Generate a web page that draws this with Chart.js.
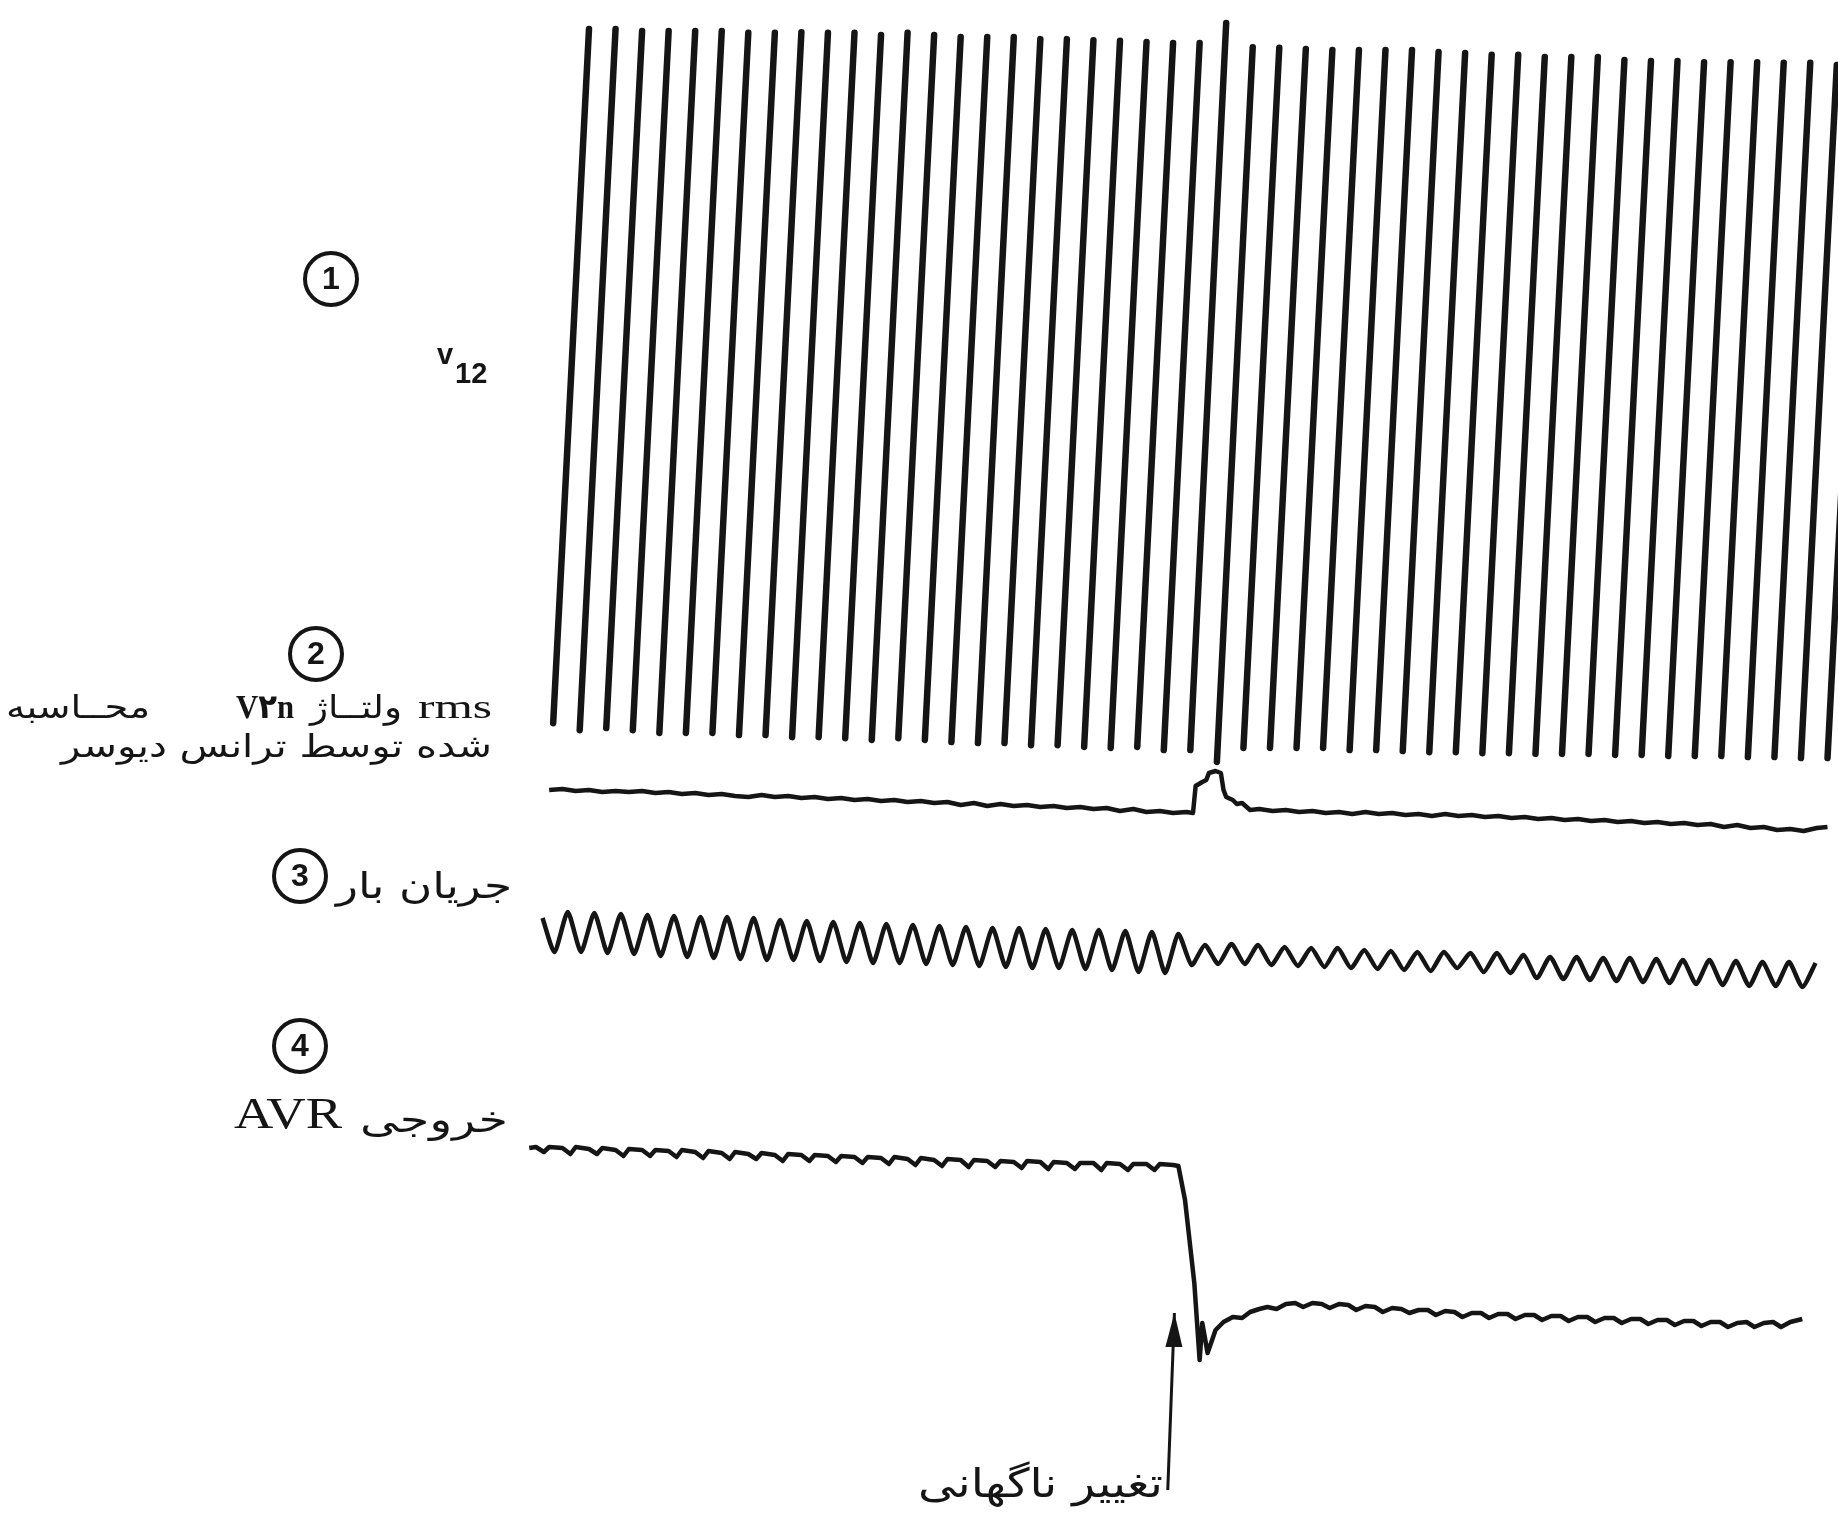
<!DOCTYPE html>
<html><head><meta charset="utf-8">
<script src="https://cdn.jsdelivr.net/npm/chart.js@4.4.1/dist/chart.umd.min.js"></script>
<style>html,body{margin:0;padding:0;background:#fff}canvas{display:block}</style>
</head><body>
<canvas id="c" width="1838" height="1514" style="width:1838px;height:1514px"></canvas>
<script>
// ---------- DATA (time in ms, 20 ms per cycle) ----------
// Trace 1: v12, per-unit peak/trough of each cycle stroke
const v12PeakTimes   = [0,20,40,60,80,100,120,140,160,180,200,220,240,260,280,300,320,340,360,380,400,420,440,460,480,500,520,540,560,580,600,620,640,660,680,700,720,740,760,780,800,820,840,860,880,900,920,940,960];
const v12Peaks       = [1.000,1.000,0.994,0.994,0.994,0.994,0.989,0.989,0.991,0.989,0.989,0.983,0.989,0.983,0.977,0.977,0.977,0.971,0.971,0.968,0.966,0.963,0.960,0.960,1.017,0.948,0.946,0.943,0.940,0.940,0.940,0.940,0.934,0.931,0.926,0.926,0.920,0.920,0.920,0.911,0.908,0.908,0.905,0.905,0.905,0.903,0.903,0.897,0.895];
const v12TroughTimes = [-27,-7,13,33,53,73,93,113,133,153,173,193,213,233,253,273,293,313,333,353,373,393,413,433,453,473,493,513,533,553,573,593,613,633,653,673,693,713,733,753,773,793,813,833,853,873,893,913,933];
const v12Troughs     = [-0.989,-1.009,-1.003,-1.009,-1.017,-1.017,-1.017,-1.023,-1.023,-1.029,-1.029,-1.032,-1.037,-1.032,-1.037,-1.043,-1.046,-1.046,-1.052,-1.052,-1.057,-1.060,-1.057,-1.066,-1.066,-1.100,-1.060,-1.060,-1.060,-1.060,-1.066,-1.066,-1.069,-1.072,-1.072,-1.075,-1.075,-1.077,-1.077,-1.077,-1.080,-1.080,-1.083,-1.083,-1.083,-1.086,-1.086,-1.089,-1.089];

// Trace 2: rms voltage from transducer (pu)
const rmsTimes  = [-30,-20,-10,0,10,20,30,40,50,60,70,80,90,100,110,120,130,140,150,160,170,180,190,200,210,220,230,240,250,260,270,280,290,300,310,320,330,340,350,360,370,380,390,400,410,420,430,440,450,455,457,462,465,467,472,476,478,480,485,488,492,498,505,515,525,535,545,555,565,575,585,595,605,615,625,635,645,655,665,675,685,695,705,715,725,735,745,755,765,775,785,795,805,815,825,835,845,855,865,875,885,895,905,915,925,933];
const rmsValues = [1.000,1.002,0.998,1.000,0.996,0.998,0.996,0.998,0.994,0.996,0.992,0.994,0.990,0.992,0.988,0.986,0.990,0.986,0.988,0.984,0.986,0.982,0.984,0.980,0.982,0.978,0.980,0.976,0.978,0.974,0.976,0.970,0.974,0.968,0.972,0.968,0.970,0.966,0.968,0.964,0.966,0.962,0.964,0.958,0.962,0.956,0.958,0.954,0.956,0.954,1.008,1.016,1.020,1.034,1.038,1.034,1.000,0.986,0.980,0.972,0.974,0.960,0.962,0.958,0.960,0.956,0.958,0.954,0.956,0.952,0.956,0.952,0.954,0.950,0.952,0.948,0.952,0.948,0.950,0.946,0.948,0.944,0.946,0.942,0.944,0.940,0.942,0.938,0.940,0.936,0.938,0.934,0.936,0.932,0.934,0.930,0.932,0.926,0.930,0.924,0.926,0.920,0.922,0.918,0.924,0.926];

// Trace 3: load current (recorder deflection units)
const curStart = {t: -35, v: 4.10};
const curTroughTimes = [-26,-6,14,34,54,74,94,114,134,154,174,194,214,234,254,274,294,314,334,354,374,394,414,434,454,474,494,514,534,554,574,594,614,634,654,674,694,714,734,754,774,794,814,834,854,874,894,914];
const curTroughs     = [2.40,2.40,2.35,2.30,2.20,2.15,2.10,2.05,2.00,2.00,1.95,1.90,1.85,1.85,1.80,1.75,1.70,1.65,1.60,1.60,1.55,1.50,1.40,1.35,1.75,1.80,1.80,1.75,1.70,1.65,1.60,1.55,1.50,1.45,1.60,1.40,1.35,1.10,1.05,1.00,0.95,0.90,0.85,0.80,0.75,0.70,0.70,0.65];
const curPeakTimes   = [-16,4,24,44,64,84,104,124,144,164,184,204,224,244,264,284,304,324,344,364,384,404,424,444,464,484,504,524,544,564,584,604,624,644,664,684,704,724,744,764,784,804,824,844,864,884,904,924];
const curPeaks       = [4.40,4.35,4.30,4.25,4.20,4.15,4.15,4.10,4.00,3.95,3.90,3.85,3.80,3.75,3.70,3.65,3.60,3.60,3.55,3.50,3.50,3.45,3.40,3.30,2.75,2.80,2.75,2.65,2.60,2.60,2.50,2.45,2.40,2.40,2.35,2.35,2.25,2.15,2.15,2.10,2.10,2.05,2.00,2.00,1.95,1.90,1.90,1.85];

// Trace 4: AVR output (pu)
const avrTimes  = [-45,-40,-34,-30,-20,-14,-10,0,6,10,20,26,30,40,46,50,60,66,70,80,86,90,100,106,110,120,126,130,140,146,150,160,166,170,180,186,190,200,206,210,220,226,230,240,246,250,260,266,270,280,286,290,300,306,310,320,326,330,340,346,350,360,366,370,380,386,390,400,406,410,420,426,430,440,444,449,456,460,462,466,472,478,485,492,498,505,511,518,525,532,538,545,552,558,565,572,578,585,592,598,605,612,618,625,632,638,645,652,658,665,672,678,685,692,698,705,712,718,725,732,738,745,752,758,765,772,778,785,792,798,805,812,818,825,832,838,845,852,858,865,872,878,885,892,898,905,914];
const avrValues = [2.52,2.53,2.48,2.53,2.52,2.46,2.53,2.51,2.46,2.52,2.50,2.44,2.51,2.50,2.44,2.50,2.49,2.43,2.50,2.48,2.42,2.49,2.47,2.41,2.48,2.46,2.41,2.47,2.45,2.39,2.46,2.45,2.39,2.45,2.44,2.38,2.44,2.43,2.37,2.43,2.42,2.36,2.43,2.41,2.35,2.42,2.40,2.34,2.41,2.40,2.33,2.40,2.39,2.33,2.39,2.38,2.32,2.39,2.38,2.31,2.38,2.37,2.31,2.37,2.37,2.30,2.37,2.36,2.30,2.36,2.36,2.30,2.36,2.35,2.34,2.00,1.17,0.40,0.77,0.47,0.70,0.78,0.83,0.82,0.88,0.91,0.93,0.91,0.96,0.97,0.93,0.97,0.96,0.92,0.96,0.95,0.90,0.94,0.93,0.88,0.92,0.91,0.87,0.90,0.90,0.85,0.89,0.88,0.83,0.87,0.87,0.82,0.86,0.86,0.81,0.85,0.85,0.80,0.84,0.84,0.79,0.83,0.83,0.78,0.82,0.82,0.77,0.81,0.81,0.76,0.80,0.80,0.75,0.79,0.79,0.74,0.78,0.78,0.73,0.77,0.78,0.73,0.77,0.78,0.73,0.78,0.81];

// "sudden change" marker arrow (time ms, AVR axis units)
const arrowTimes  = [436, 441];
const arrowValues = [-0.90, 0.87];

// ---------- build datasets ----------
const INK = '#151515';
const v12Data = [];
for (let k = 0; k < v12PeakTimes.length; k++) {
  v12Data.push({x: v12TroughTimes[k], y: v12Troughs[k]});
  v12Data.push({x: v12PeakTimes[k], y: v12Peaks[k]});
  v12Data.push({x: v12PeakTimes[k], y: null});
}
const rmsData = rmsTimes.map((t, i) => ({x: t, y: rmsValues[i]}));
const curData = [{x: curStart.t, y: curStart.v}];
for (let k = 0; k < curTroughTimes.length; k++) {
  curData.push({x: curTroughTimes[k], y: curTroughs[k]});
  curData.push({x: curPeakTimes[k], y: curPeaks[k]});
}
const avrData = avrTimes.map((t, i) => ({x: t, y: avrValues[i]}));
const arrowData = arrowTimes.map((t, i) => ({x: t, y: arrowValues[i]}));

function circled(c, x, y, r, d) {
  c.beginPath(); c.lineWidth = 4; c.arc(x, y, r, 0, Math.PI * 2); c.stroke();
  c.font = 'bold 32px "Liberation Sans"'; c.textAlign = 'center'; c.textBaseline = 'middle';
  c.fillText(d, x, y + 1);
  c.textBaseline = 'alphabetic';
}
function fit(c, text, xRight, base, width, font, dir) {
  c.save(); c.font = font; c.direction = dir || 'rtl'; c.textAlign = 'right';
  const w = c.measureText(text).width;
  c.translate(xRight, base); c.scale(width / w, 1); c.fillText(text, 0, 0); c.restore();
}

const bgPlugin = { id: 'bg', beforeDraw(ch) { const c = ch.ctx; c.save(); c.fillStyle = '#fff'; c.fillRect(0, 0, ch.width, ch.height); c.restore(); } };
const labelPlugin = {
  id: 'labels',
  afterDatasetsDraw(ch) {
    const c = ch.ctx; c.save(); c.fillStyle = INK; c.strokeStyle = INK;
    // arrow head
    const xs = ch.scales.x, ya = ch.scales.yA;
    const tx = xs.getPixelForValue(arrowTimes[1]), ty = ya.getPixelForValue(arrowValues[1]);
    c.beginPath(); c.moveTo(tx, ty); c.lineTo(tx - 9, ty + 34); c.lineTo(tx + 8, ty + 34); c.closePath(); c.fill();
    // trace labels
    circled(c, 331, 279, 26, '1');
    c.textAlign = 'left';
    c.font = 'bold 29px "Liberation Sans"'; c.fillText('v', 437, 364);
    c.font = 'bold 29px "Liberation Sans"'; c.fillText('12', 455, 383);

    circled(c, 316, 654, 26, '2');
    fit(c, 'rms', 492, 718, 74, '34px "Liberation Serif"', 'ltr');
    fit(c, 'ولتــاژ', 402, 718, 92, '32px "DejaVu Sans"');
    fit(c, 'V۲n', 294, 718, 58, 'bold 34px "Liberation Serif", "DejaVu Sans"', 'ltr');
    fit(c, 'محــاسبه', 150, 718, 144, '32px "DejaVu Sans"');
    fit(c, 'شده توسط ترانس دیوسر', 492, 757, 431, '32px "DejaVu Sans"');

    circled(c, 300, 876, 26, '3');
    fit(c, 'جریان بار', 512, 898, 176, '36px "DejaVu Sans"');

    circled(c, 300, 1046, 26, '4');
    fit(c, 'AVR', 342, 1128, 108, '44px "Liberation Serif"', 'ltr');
    fit(c, 'خروجی', 508, 1132, 148, '36px "DejaVu Sans"');

    fit(c, 'تغییر ناگهانی', 1163, 1497, 245, '40px "DejaVu Sans"');
    c.restore();
  }
};

const lineBase = { pointRadius: 0, borderColor: INK, fill: false, xAxisID: 'x', spanGaps: false };
new Chart(document.getElementById('c'), {
  type: 'line',
  data: { datasets: [
    Object.assign({}, lineBase, { label: 'v12', data: v12Data, yAxisID: 'yV', borderWidth: 6.5, tension: 0, borderCapStyle: 'round' }),
    Object.assign({}, lineBase, { label: 'rms', data: rmsData, yAxisID: 'yR', borderWidth: 4.5, tension: 0, borderJoinStyle: 'round' }),
    Object.assign({}, lineBase, { label: 'current', data: curData, yAxisID: 'yI', borderWidth: 4.5, tension: 0.2, borderJoinStyle: 'round' }),
    Object.assign({}, lineBase, { label: 'avr', data: avrData, yAxisID: 'yA', borderWidth: 4.5, tension: 0, borderJoinStyle: 'round' }),
    Object.assign({}, lineBase, { label: 'arrow', data: arrowData, yAxisID: 'yA', borderWidth: 3, tension: 0 })
  ]},
  options: {
    responsive: false, animation: false, devicePixelRatio: 1, events: [],
    layout: { padding: 0 },
    plugins: { legend: { display: false }, tooltip: { enabled: false }, title: { display: false } },
    scales: {
      x:  { type: 'linear', min: -443.7, max: 940.9, display: false },
      yV: { type: 'linear', min: -3.255, max: 1.0831, display: false },
      yR: { type: 'linear', min: -0.448, max: 2.58, display: false },
      yI: { type: 'linear', min: -25.7, max: 50, display: false },
      yA: { type: 'linear', min: -1.14, max: 14, display: false }
    }
  },
  plugins: [bgPlugin, labelPlugin]
});
</script>
</body></html>
